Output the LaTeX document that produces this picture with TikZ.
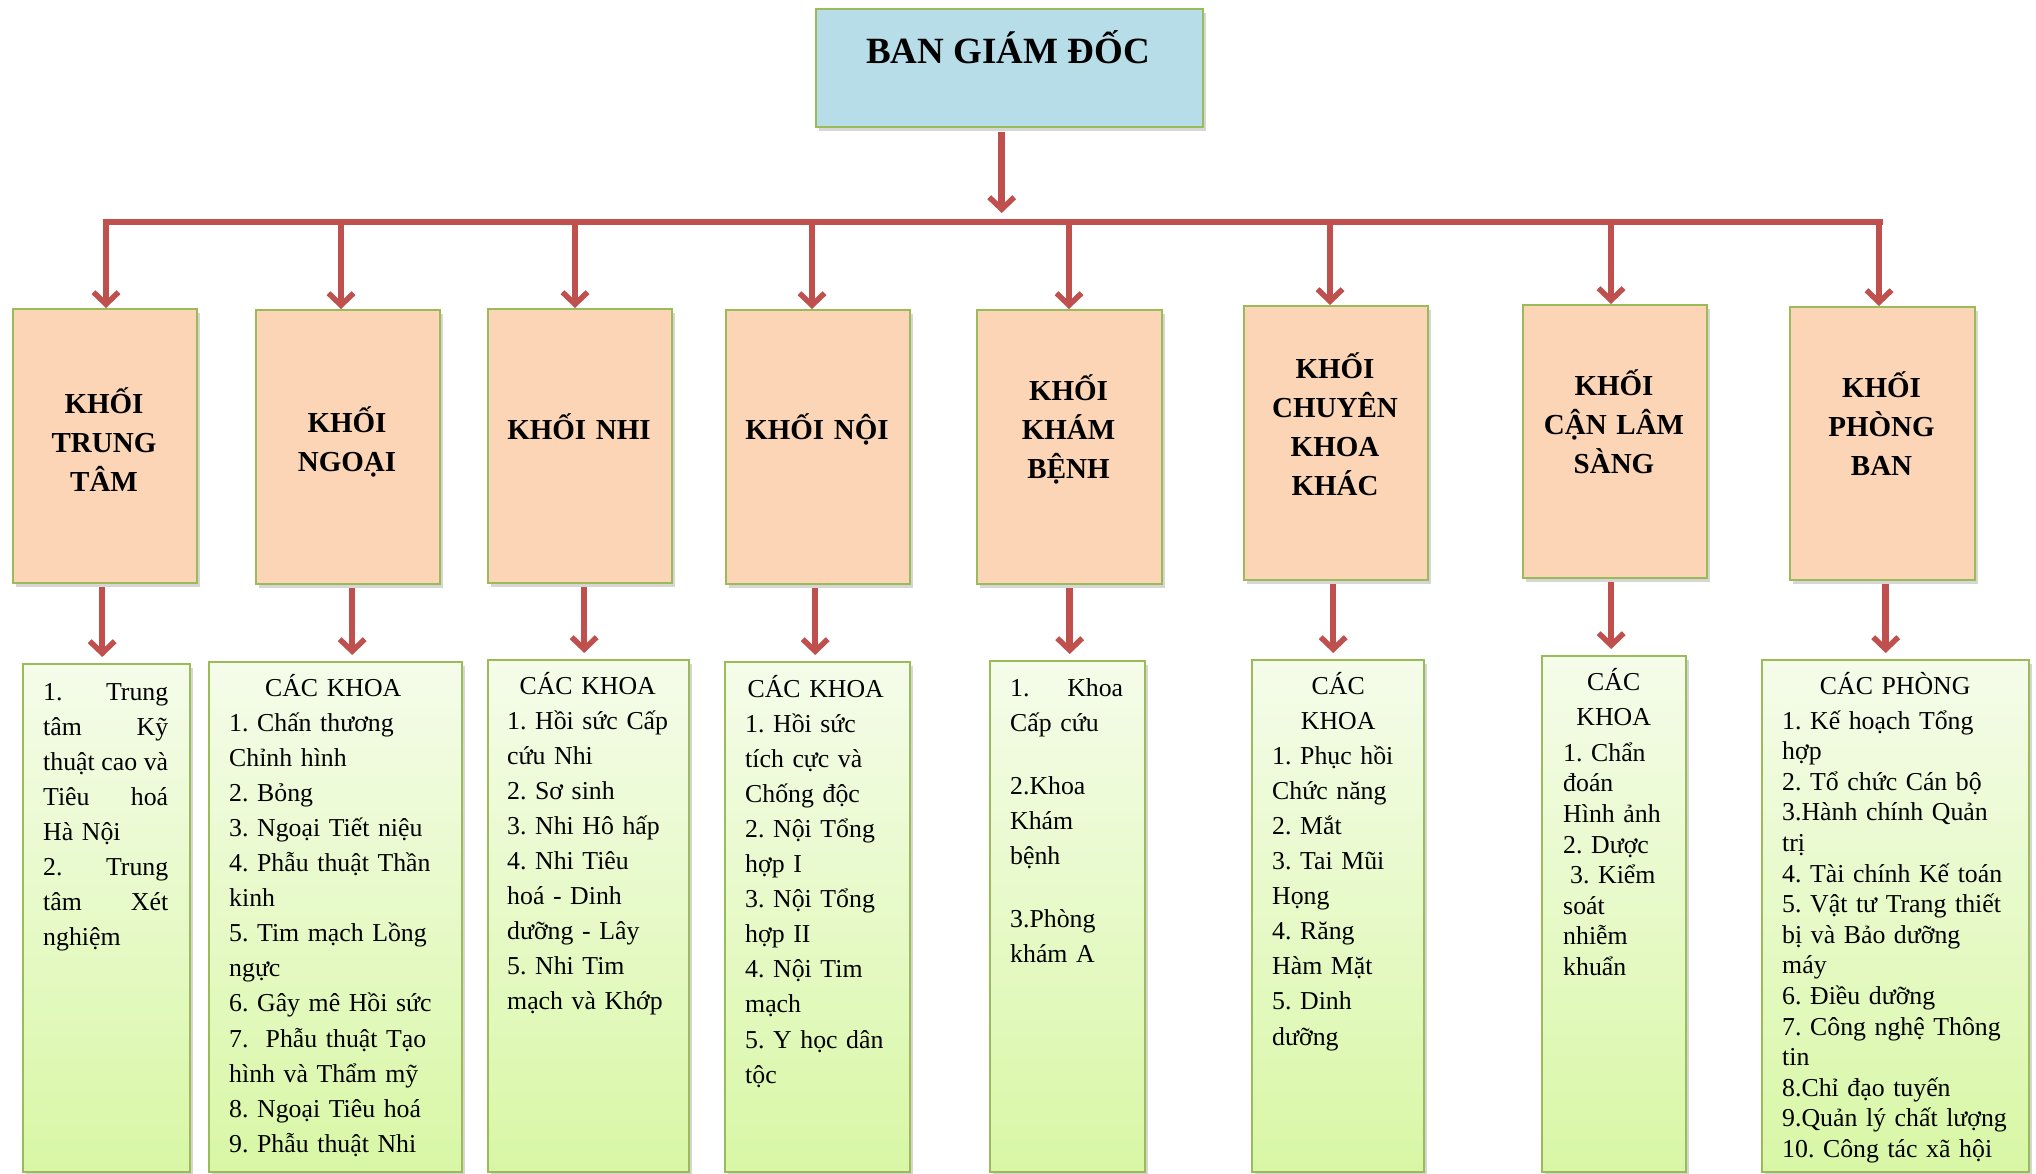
\documentclass[tikz,border=0pt]{standalone}
\usepackage{fontspec}
\setmainfont{Liberation Serif}
\usetikzlibrary{arrows.meta,shadows}
\definecolor{linered}{HTML}{C0504D}
\definecolor{boxedge}{HTML}{9BBB59}
\definecolor{topfill}{HTML}{B7DEE8}
\definecolor{blockfill}{HTML}{FBD5B5}
\definecolor{listtop}{HTML}{F5FCEA}
\definecolor{listbot}{HTML}{D8F7A5}
\frenchspacing

\begin{document}
\begin{tikzpicture}[x=1pt,y=-1pt,
  boxshadow/.style={drop shadow={shadow xshift=3pt,shadow yshift=-4pt,opacity=0.16,fill=black}},
  headbox/.style={draw=boxedge,line width=2.4pt,fill=topfill,boxshadow,anchor=north west,inner sep=0pt},
  blockbox/.style={draw=boxedge,line width=2.4pt,fill=blockfill,boxshadow,anchor=north west,inner sep=0pt},
  listbox/.style={draw=boxedge,line width=2.4pt,top color=listtop,bottom color=listbot,boxshadow,anchor=north west,inner sep=0pt},
  blocklabel/.style={font=\fontsize{29}{39}\selectfont\bfseries,text width=184pt,align=center,anchor=base,inner sep=0pt},
  listtext/.style={font=\fontsize{25.8}{35.1}\selectfont\frenchspacing,text width=280pt,align=left,anchor=base west,inner sep=0pt},
  tightlist/.style={listtext,font=\fontsize{25.8}{30.6}\selectfont\frenchspacing},
  link/.style={draw=linered,line width=6.5pt},
  arrowlink/.style={link,-{Straight Barb[length=12pt,width=25pt,line width=5.5pt]}},
]
\useasboundingbox (0,0) rectangle (2036,1173);

% board of directors
\node[headbox,minimum width=387pt,minimum height=118pt] (head) at (815,8) {};
\node[font=\fontsize{37}{44}\selectfont\bfseries,anchor=base,inner sep=0pt] (headlabel) at (1008,63) {BAN GIÁM ĐỐC};

% blocks
\node[blockbox,minimum width=184pt,minimum height=274pt] (p1) at (12,308) {};
\node[blockbox,minimum width=184pt,minimum height=274pt] (p2) at (255,309) {};
\node[blockbox,minimum width=184pt,minimum height=274pt] (p3) at (487,308) {};
\node[blockbox,minimum width=184pt,minimum height=274pt] (p4) at (725,309) {};
\node[blockbox,minimum width=185pt,minimum height=274pt] (p5) at (976,309) {};
\node[blockbox,minimum width=184pt,minimum height=274pt] (p6) at (1243,305) {};
\node[blockbox,minimum width=184pt,minimum height=273pt] (p7) at (1522,304) {};
\node[blockbox,minimum width=185pt,minimum height=273pt] (p8) at (1789,306) {};

\node[blocklabel] (pl1) at (104,413.5) {KHỐI\\TRUNG\\TÂM};
\node[blocklabel] (pl2) at (347,432.5) {KHỐI\\NGOẠI};
\node[blocklabel] (pl3) at (579,439.5) {KHỐI NHI};
\node[blocklabel] (pl4) at (817,439.5) {KHỐI NỘI};
\node[blocklabel] (pl5) at (1068.5,400.5) {KHỐI\\KHÁM\\BỆNH};
\node[blocklabel] (pl6) at (1335,378.3) {KHỐI\\CHUYÊN\\KHOA\\KHÁC};
\node[blocklabel] (pl7) at (1614,395) {KHỐI\\CẬN LÂM\\SÀNG};
\node[blocklabel] (pl8) at (1881.5,397.5) {KHỐI\\PHÒNG\\BAN};

% department lists
\node[listbox,minimum width=167pt,minimum height=508pt] (g1) at (22,663) {};
\node[listbox,minimum width=253pt,minimum height=510pt] (g2) at (208,661) {};
\node[listbox,minimum width=201pt,minimum height=512pt] (g3) at (487,659) {};
\node[listbox,minimum width=185pt,minimum height=510pt] (g4) at (724,661) {};
\node[listbox,minimum width=155pt,minimum height=511pt] (g5) at (989,660) {};
\node[listbox,minimum width=172pt,minimum height=512pt] (g6) at (1251,659) {};
\node[listbox,minimum width=144pt,minimum height=516pt] (g7) at (1541,655) {};
\node[listbox,minimum width=267pt,minimum height=512pt] (g8) at (1761,659) {};

\node[listtext] (gl1) at (43,700) {%
\makebox[125pt]{1.\hfill Trung}\\
\makebox[125pt]{tâm\hfill Kỹ}\\
\makebox[125pt]{thuật\hfill cao\hfill và}\\
\makebox[125pt]{Tiêu\hfill hoá}\\
Hà Nội\\
\makebox[125pt]{2.\hfill Trung}\\
\makebox[125pt]{tâm\hfill Xét}\\
nghiệm};

\node[listtext] (gl2) at (229,696) {%
\makebox[208pt]{CÁC KHOA}\\
1. Chấn thương\\
Chỉnh hình\\
2. Bỏng\\
3. Ngoại Tiết niệu\\
4. Phẫu thuật Thần\\
kinh\\
5. Tim mạch Lồng\\
ngực\\
6. Gây mê Hồi sức\\
7.\ \ Phẫu thuật Tạo\\
hình và Thẩm mỹ\\
8. Ngoại Tiêu hoá\\
9. Phẫu thuật Nhi};

\node[listtext] (gl3) at (507,694) {%
\makebox[161pt]{CÁC KHOA}\\
1. Hồi sức Cấp\\
cứu Nhi\\
2. Sơ sinh\\
3. Nhi Hô hấp\\
4. Nhi Tiêu\\
hoá - Dinh\\
dưỡng - Lây\\
5. Nhi Tim\\
mạch và Khớp};

\node[listtext] (gl4) at (745,697) {%
\makebox[141pt]{CÁC KHOA}\\
1. Hồi sức\\
tích cực và\\
Chống độc\\
2. Nội Tổng\\
hợp I\\
3. Nội Tổng\\
hợp II\\
4. Nội Tim\\
mạch\\
5. Y học dân\\
tộc};

\node[listtext] (gl5) at (1010,696) {%
\makebox[113pt]{1.\hfill Khoa}\\
Cấp cứu\\[28pt]
2.Khoa\\
Khám\\
bệnh\\[28pt]
3.Phòng\\
khám A};

\node[listtext] (gl6) at (1272,694) {%
\makebox[132pt]{CÁC}\\
\makebox[132pt]{KHOA}\\
1. Phục hồi\\
Chức năng\\
2. Mắt\\
3. Tai Mũi\\
Họng\\
4. Răng\\
Hàm Mặt\\
5. Dinh\\
dưỡng};

\node[tightlist] (gl7) at (1563,690) {%
\makebox[101pt]{CÁC}\\[5pt]
\makebox[101pt]{KHOA}\\[5pt]
1. Chẩn\\
đoán\\
Hình ảnh\\
2. Dược\\
\hspace*{7pt}3. Kiểm\\
soát\\
nhiễm\\
khuẩn};

\node[tightlist] (gl8) at (1782,694) {%
\makebox[226pt]{CÁC PHÒNG}\\[4.5pt]
1. Kế hoạch Tổng\\
hợp\\
2. Tổ chức Cán bộ\\
3.Hành chính Quản\\
trị\\
4. Tài chính Kế toán\\
5. Vật tư Trang thiết\\
bị và Bảo dưỡng\\
máy\\
6. Điều dưỡng\\
7. Công nghệ Thông\\
tin\\
8.Chỉ đạo tuyến\\
9.Quản lý chất lượng\\
10. Công tác xã hội};

% distribution bar and arrows
\coordinate (barL) at (102.5,222);
\coordinate (barR) at (1882.5,222);
\coordinate (b1) at (106,222);
\coordinate (b2) at (341,222);
\coordinate (b3) at (575,222);
\coordinate (b4) at (812,222);
\coordinate (b5) at (1069,222);
\coordinate (b6) at (1330,222);
\coordinate (b7) at (1611,222);
\coordinate (b8) at (1879,222);

\draw[arrowlink,shorten <=4pt,shorten >=9pt] ([xshift=-8pt]head.south) -- ([xshift=-8pt]head.south |- barL);
\draw[link] (barL) -- (barR);
\foreach \i in {1,...,8}{
  \draw[arrowlink] (b\i) -- (b\i |- p\i.north);
}

\draw[arrowlink,shorten <=3pt,shorten >=6pt] ([xshift=-3pt]p1.south) -- ([xshift=-3pt]p1.south |- g1.north);
\draw[arrowlink,shorten <=3pt,shorten >=6pt] ([xshift=4pt]p2.south) -- ([xshift=4pt]p2.south |- g2.north);
\draw[arrowlink,shorten <=3pt,shorten >=6pt] ([xshift=4pt]p3.south) -- ([xshift=4pt]p3.south |- g3.north);
\draw[arrowlink,shorten <=3pt,shorten >=6pt] ([xshift=-3pt]p4.south) -- ([xshift=-3pt]p4.south |- g4.north);
\draw[arrowlink,shorten <=3pt,shorten >=6pt] (p5.south) -- (p5.south |- g5.north);
\draw[arrowlink,shorten <=3pt,shorten >=6pt] ([xshift=-3pt]p6.south) -- ([xshift=-3pt]p6.south |- g6.north);
\draw[arrowlink,shorten <=3pt,shorten >=6pt] ([xshift=-4pt]p7.south) -- ([xshift=-4pt]p7.south |- g7.north);
\draw[arrowlink,shorten <=3pt,shorten >=6pt] ([xshift=3pt]p8.south) -- ([xshift=3pt]p8.south |- g8.north);
\end{tikzpicture}
\end{document}
